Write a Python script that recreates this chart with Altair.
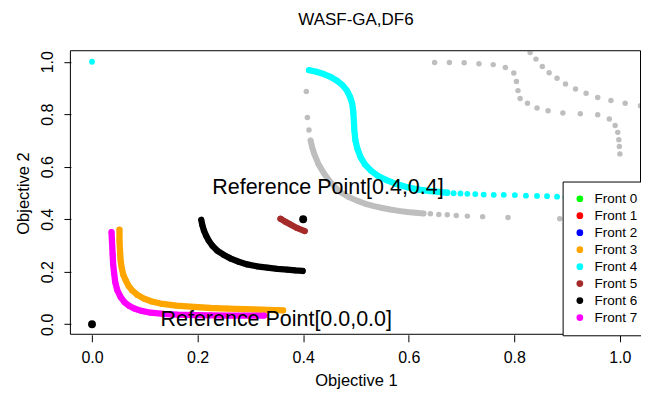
import altair as alt
import pandas as pd

FONT = "Liberation Sans"

fronts = ["Front 0", "Front 1", "Front 2", "Front 3", "Front 4", "Front 5", "Front 6", "Front 7"]
front_colors = ["#00FF00", "#FF0000", "#0000FF", "#FFA500", "#00FFFF", "#A52A2A", "#000000", "#FF00FF"]

# Front 3 (orange)
f3_x = [0.052, 0.052, 0.053, 0.054, 0.056, 0.059, 0.064, 0.069, 0.076, 0.086, 0.098, 0.113, 0.130, 0.160, 0.193, 0.225, 0.256, 0.290, 0.319, 0.362]
f3_y = [0.360, 0.320, 0.281, 0.245, 0.218, 0.190, 0.167, 0.147, 0.129, 0.112, 0.098, 0.087, 0.079, 0.071, 0.066, 0.062, 0.060, 0.058, 0.056, 0.053]

# Front 7 (magenta)
f7_x = [0.037, 0.038, 0.039, 0.040, 0.042, 0.044, 0.048, 0.054, 0.061, 0.070, 0.080, 0.094, 0.111, 0.135, 0.162, 0.195, 0.225, 0.260, 0.288, 0.326]
f7_y = [0.351, 0.310, 0.269, 0.230, 0.193, 0.160, 0.129, 0.104, 0.085, 0.071, 0.060, 0.051, 0.044, 0.040, 0.037, 0.035, 0.034, 0.033, 0.033, 0.033]

# Front 6 (black)
f6_x = [0.207, 0.209, 0.212, 0.216, 0.221, 0.228, 0.237, 0.249, 0.263, 0.278, 0.294, 0.312, 0.332, 0.351, 0.370, 0.385, 0.399]
f6_y = [0.398, 0.378, 0.357, 0.338, 0.319, 0.299, 0.281, 0.265, 0.250, 0.238, 0.228, 0.221, 0.216, 0.211, 0.208, 0.205, 0.203]

# Front 5 (brown)
f5_x = [0.357, 0.366, 0.376, 0.389, 0.403]
f5_y = [0.402, 0.391, 0.380, 0.366, 0.355]

# Front 4 (cyan): dense part and sparse points
f4_dense_x = [0.411, 0.425, 0.439, 0.452, 0.464, 0.475, 0.483, 0.489, 0.493, 0.495, 0.496, 0.497, 0.499, 0.503, 0.509, 0.517, 0.528, 0.542, 0.559, 0.577, 0.597, 0.619, 0.641, 0.657, 0.673]
f4_dense_y = [0.968, 0.962, 0.953, 0.942, 0.928, 0.910, 0.890, 0.865, 0.839, 0.808, 0.776, 0.738, 0.700, 0.667, 0.636, 0.609, 0.586, 0.565, 0.548, 0.534, 0.522, 0.513, 0.507, 0.504, 0.501]
f4_sparse_x = [0.000, 0.685, 0.698, 0.711, 0.726, 0.742, 0.761, 0.780, 0.801, 0.822, 0.843, 0.862, 0.881, 0.897, 0.915]
f4_sparse_y = [1.000, 0.499, 0.498, 0.497, 0.496, 0.494, 0.493, 0.493, 0.492, 0.490, 0.489, 0.488, 0.486, 0.484, 0.483]

# Other (gray) solutions
gray_dense_x = [0.414, 0.417, 0.421, 0.429, 0.440, 0.454, 0.471, 0.486, 0.502, 0.518, 0.534, 0.550, 0.565, 0.581, 0.597, 0.613, 0.628]
gray_dense_y = [0.700, 0.675, 0.649, 0.610, 0.573, 0.535, 0.503, 0.485, 0.471, 0.459, 0.450, 0.443, 0.437, 0.432, 0.428, 0.425, 0.422]
gray_sparse_x = [0.406, 0.408, 0.411, 0.641, 0.657, 0.673, 0.690, 0.711, 0.740, 0.788, 0.886,
                 0.649, 0.677, 0.705, 0.733, 0.760, 0.783, 0.799, 0.804, 0.807, 0.811, 0.825, 0.843, 0.864, 0.892, 0.925, 0.958, 0.980, 0.991, 0.996, 0.998, 0.999, 1.000,
                 0.830, 0.841, 0.853, 0.866, 0.881, 0.897, 0.916, 0.936, 0.958, 0.983, 1.010, 1.039]
gray_sparse_y = [0.887, 0.788, 0.740, 0.421, 0.418, 0.417, 0.414, 0.412, 0.410, 0.407, 0.402,
                 0.997, 0.997, 0.996, 0.992, 0.989, 0.978, 0.957, 0.925, 0.890, 0.860, 0.842, 0.824, 0.813, 0.805, 0.802, 0.798, 0.782, 0.757, 0.731, 0.703, 0.677, 0.649,
                 1.035, 1.010, 0.982, 0.958, 0.937, 0.915, 0.896, 0.880, 0.864, 0.852, 0.842, 0.832]

# Reference points and labels
ref_x = [0.0, 0.4]
ref_y = [0.0, 0.4]
label_text = ["Reference Point[0.4,0.4]", "Reference Point[0.0,0.0]"]
label_x = [0.447, 0.349]
label_y = [0.497, -0.005]

tick_vals = [0.0, 0.2, 0.4, 0.6, 0.8, 1.0]

W, H = 571, 284

# ---- build tables ----
line_rows, pt_rows = [], []
for name, xs, ys in [("Front 3", f3_x, f3_y), ("Front 7", f7_x, f7_y), ("Front 6", f6_x, f6_y),
                     ("Front 5", f5_x, f5_y), ("Front 4", f4_dense_x, f4_dense_y)]:
    for i, (a, b) in enumerate(zip(xs, ys)):
        line_rows.append({"x": a, "y": b, "front": name, "idx": i})
        pt_rows.append({"x": a, "y": b, "front": name})
for a, b in zip(f4_sparse_x, f4_sparse_y):
    pt_rows.append({"x": a, "y": b, "front": "Front 4"})
df_lines = pd.DataFrame(line_rows)
df_pts = pd.DataFrame(pt_rows)

df_gray_line = pd.DataFrame({"x": gray_dense_x, "y": gray_dense_y, "idx": list(range(len(gray_dense_x)))})
df_gray_pts = pd.DataFrame({"x": gray_dense_x + gray_sparse_x, "y": gray_dense_y + gray_sparse_y})
df_ref = pd.DataFrame({"x": ref_x, "y": ref_y})
df_lab = pd.DataFrame({"x": label_x, "y": label_y, "t": label_text})

xscale = alt.Scale(domain=[-0.04, 1.04], nice=False, zero=False)
yscale = alt.Scale(domain=[-0.04, 1.04], nice=False, zero=False)
xaxis = alt.Axis(values=tick_vals, format=".1f", title="Objective 1", grid=False, domain=False,
                 tickSize=7, tickColor="black", labelFontSize=16, labelFont=FONT, labelColor="black",
                 labelPadding=8, titleFont=FONT, titleFontSize=16.5, titleFontWeight="normal",
                 titleColor="black", titleY=38, titleBaseline="top")
yaxis = alt.Axis(values=tick_vals, format=".1f", title="Objective 2", grid=False, domain=False,
                 tickSize=7, tickColor="black", labelFontSize=16, labelFont=FONT, labelColor="black",
                 labelAngle=270, labelAlign="center", labelBaseline="alphabetic", labelPadding=11,
                 titleFont=FONT, titleFontSize=16.5, titleFontWeight="normal", titleColor="black",
                 titleX=-39, titleBaseline="bottom")

X = alt.X("x:Q", scale=xscale, axis=xaxis)
Y = alt.Y("y:Q", scale=yscale, axis=yaxis)
cscale = alt.Scale(domain=fronts, range=front_colors)

gray_line = alt.Chart(df_gray_line).mark_line(color="#BEBEBE", strokeWidth=6, strokeCap="round",
                                              strokeJoin="round", clip=True).encode(x=X, y=Y, order="idx:Q")
gray_pts = alt.Chart(df_gray_pts).mark_circle(color="#BEBEBE", size=30, opacity=1, clip=True).encode(x=X, y=Y)

front_line = alt.Chart(df_lines).mark_line(strokeWidth=6.3, strokeCap="round", strokeJoin="round", clip=True).encode(
    x=X, y=Y, stroke=alt.Stroke("front:N", scale=cscale, legend=None), detail="front:N", order="idx:Q")
front_pts = alt.Chart(df_pts).mark_circle(size=34, opacity=1, clip=True).encode(
    x=X, y=Y,
    color=alt.Color("front:N", scale=cscale,
                    legend=alt.Legend(title=None, orient="none", legendX=492.5, legendY=130.5,
                                      strokeColor="black", fillColor="white", padding=10.5,
                                      rowPadding=2, symbolSize=45, symbolType="circle",
                                      symbolStrokeWidth=0, labelFontSize=13.5, labelFont=FONT,
                                      labelColor="black", labelOffset=8, values=fronts)))
ref_pts = alt.Chart(df_ref).mark_circle(color="black", size=62, opacity=1).encode(x=X, y=Y)
ref_lab = alt.Chart(df_lab).mark_text(font=FONT, fontSize=21.5, color="black", align="center",
                                      baseline="alphabetic").encode(x=X, y=Y, text="t:N")

# plot frame (box), offset half a pixel so the 1px line is crisp
frame = alt.Chart(pd.DataFrame({"k": [0]})).mark_rect(
    filled=False, stroke="black", strokeWidth=1, fillOpacity=0
).encode(x=alt.value(-0.5), x2=alt.value(W - 0.5), y=alt.value(-0.5), y2=alt.value(H - 0.5))

chart = alt.layer(gray_line, gray_pts, front_line, front_pts, ref_pts, ref_lab, frame).resolve_scale(
    color="independent", stroke="independent"
).properties(
    width=W, height=H,
    autosize=alt.AutoSizeParams(type="none"),
    padding={"left": 63, "top": 43, "right": 0, "bottom": 55},
    title=alt.TitleParams("WASF-GA,DF6", font=FONT, fontSize=17, fontWeight="normal",
                          color="black", anchor="middle", offset=21),
).configure(background="white").configure_view(stroke=None)

chart.save("out.html", embed_options={"renderer": "svg", "actions": False})
